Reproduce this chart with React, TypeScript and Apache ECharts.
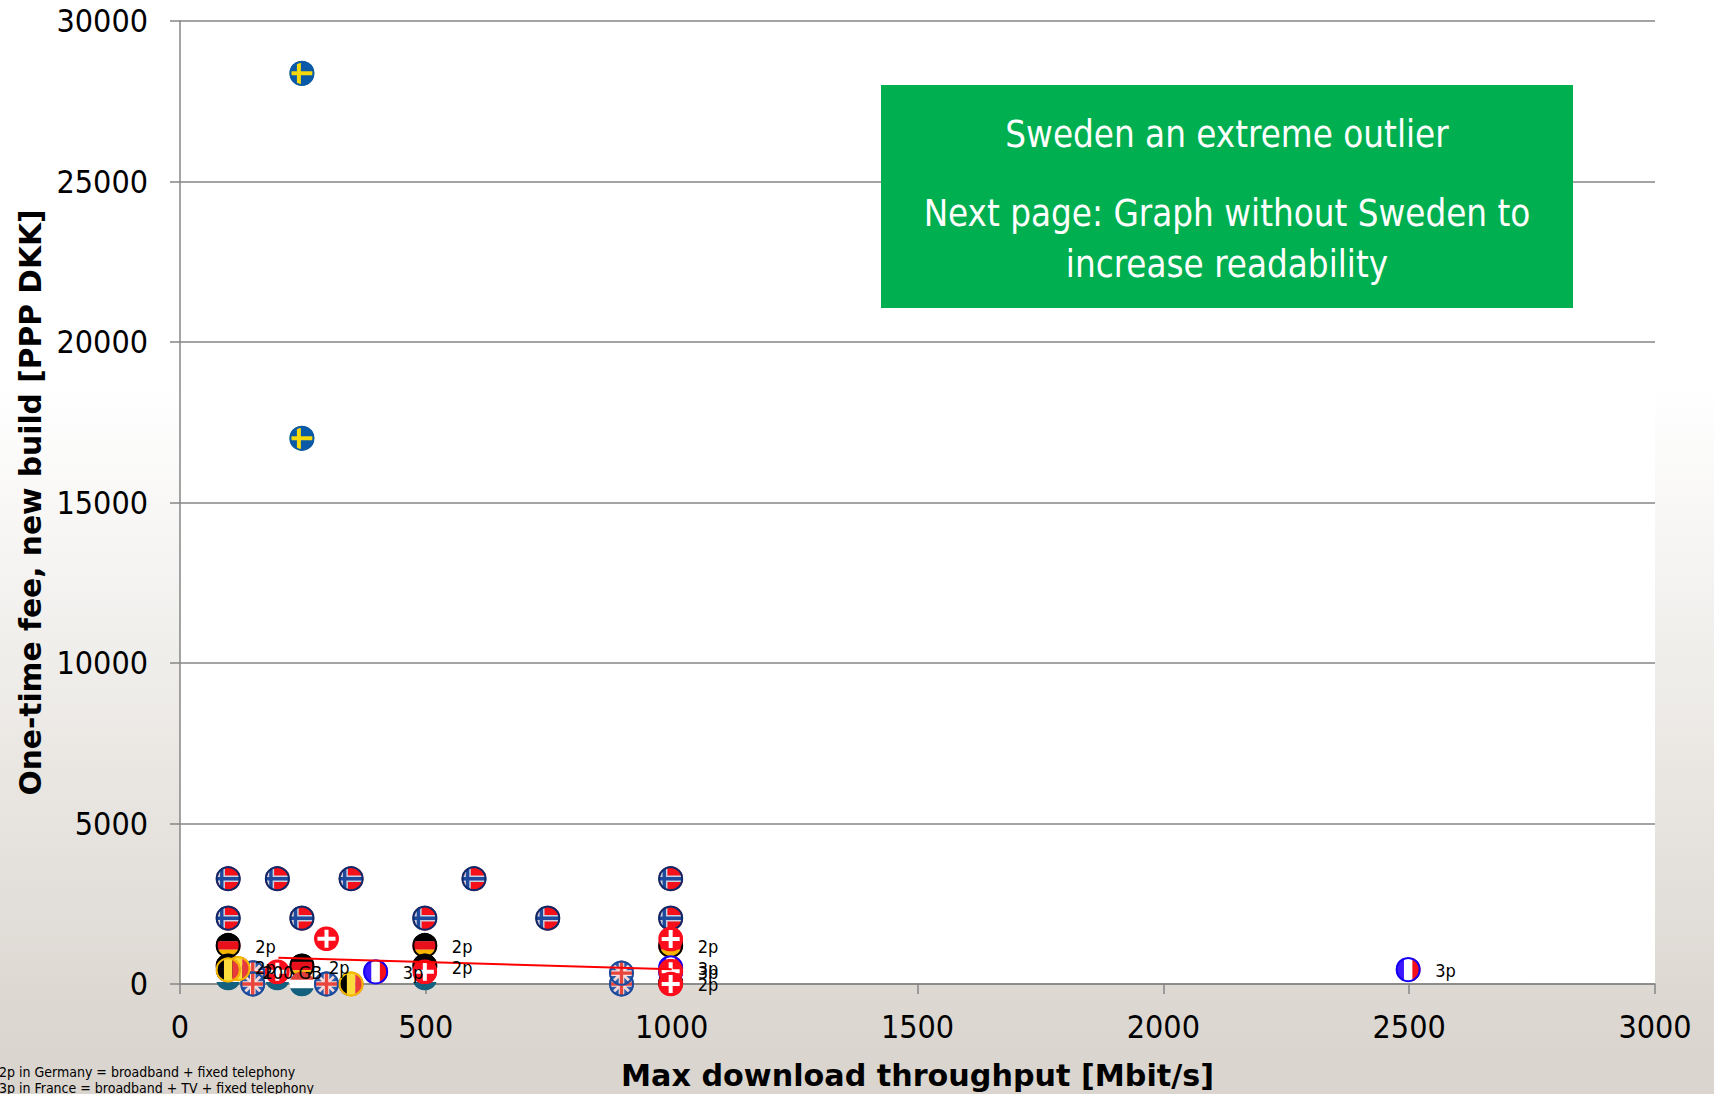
import React, { useEffect, useRef } from "react";
import * as echarts from "echarts";

const FONT = "'DejaVu Sans Condensed', 'DejaVu Sans', sans-serif";

const norway = [[100, 3280], [200, 3280], [350, 3280], [600, 3280], [1000, 3280], [100, 2050], [250, 2050], [500, 2050], [750, 2050], [1000, 2050]];
const sweden = [[250, 28370], [250, 17000]];
const germany = [[100, 1200], [500, 1200], [1000, 1200], [100, 560], [250, 560], [500, 560], [1000, 30]];
const netherlands = [[100, 190], [200, 190], [250, 0], [500, 190]];
const uk = [[150, 350], [150, 0], [300, 0], [900, 0], [900, 340]];
const belgium = [[120, 480], [100, 440], [350, 0]];
const france = [[400, 380], [1000, 500], [1000, 380], [2500, 450]];
const denmark = [[300, 1410], [200, 380], [500, 380], [1000, 1400], [1000, 400], [1000, 0]];
const trend = [[200, 820], [1000, 460]];

const labels2p = [[100, 1200], [500, 1200], [1000, 1200], [100, 560], [250, 560], [500, 560], [1000, 30]];
const labels3p = [[400, 380], [1000, 500], [1000, 380], [2500, 450]];
const labelsGb = [[200, 380, "200 GB"]];

const boxLines = ["Sweden an extreme outlier", "Next page: Graph without Sweden to", "increase readability"];
const footnotes = ["2p in Germany = broadband + fixed telephony", "3p in France = broadband + TV + fixed telephony"];

const R = 12.5;

function rect(x: number, y: number, w: number, h: number, fill: string) {
  return { type: "rect", shape: { x, y, width: w, height: h }, style: { fill } };
}
function poly(points: number[][], fill: string) {
  return { type: "polygon", shape: { points }, style: { fill } };
}

const flags: Record<string, { stroke: string | null; parts: any[] }> = {
  norway: {
    stroke: "#0b2a6b",
    parts: [
      rect(-R, -R, 2 * R, 2 * R, "#f5101a"),
      rect(-R, -3.2, 2 * R, 6.4, "#c9d0e2"),
      rect(-9.6, -R, 6.4, 2 * R, "#c9d0e2"),
      rect(-R, -1.7, 2 * R, 3.4, "#1f4a9c"),
      rect(-8.1, -R, 3.4, 2 * R, "#1f4a9c"),
    ],
  },
  sweden: {
    stroke: "#0a5aa8",
    parts: [
      rect(-R, -R, 2 * R, 2 * R, "#0a5aa8"),
      rect(-R, -2, 2 * R, 4, "#f5d90a"),
      rect(-5, -R, 4, 2 * R, "#f5d90a"),
    ],
  },
  germany: {
    stroke: "#000000",
    parts: [
      rect(-R, -R, 2 * R, 8.4, "#000000"),
      rect(-R, -4.2, 2 * R, 8.4, "#e8101a"),
      rect(-R, 4.2, 2 * R, 8.4, "#f5b400"),
    ],
  },
  netherlands: {
    stroke: null,
    parts: [
      rect(-R, -R, 2 * R, 8.4, "#e23f3a"),
      rect(-R, -4.2, 2 * R, 8.4, "#ffffff"),
      rect(-R, 4.2, 2 * R, 8.4, "#14607f"),
    ],
  },
  uk: {
    stroke: "#1b4a9c",
    parts: [
      rect(-R, -R, 2 * R, 2 * R, "#2a5aa8"),
      poly([[-R, -R + 2], [-R + 2, -R], [R, R - 2], [R - 2, R]], "#f3d8d8"),
      poly([[R, -R + 2], [R - 2, -R], [-R, R - 2], [-R + 2, R]], "#f3d8d8"),
      rect(-R, -2.8, 2 * R, 5.6, "#f7e4e2"),
      rect(-2.8, -R, 5.6, 2 * R, "#f7e4e2"),
      rect(-R, -1.7, 2 * R, 3.4, "#e8453c"),
      rect(-1.7, -R, 3.4, 2 * R, "#e8453c"),
    ],
  },
  belgium: {
    stroke: "#f5b800",
    parts: [
      rect(-R, -R, 8.4, 2 * R, "#000000"),
      rect(-4.2, -R, 8.4, 2 * R, "#fbdc3c"),
      rect(4.2, -R, 8.4, 2 * R, "#ea3b3b"),
    ],
  },
  france: {
    stroke: "#1400f5",
    parts: [
      rect(-R, -R, 8.4, 2 * R, "#3c18ff"),
      rect(-4.2, -R, 8.4, 2 * R, "#ffffff"),
      rect(4.2, -R, 8.4, 2 * R, "#f5101a"),
    ],
  },
  denmark: {
    stroke: null,
    parts: [
      rect(-R, -R, 2 * R, 2 * R, "#fb0d1b"),
      rect(-9, -2, 18, 4, "#ffffff"),
      rect(-2, -9, 4, 18, "#ffffff"),
    ],
  },
};

function flagSeries(name: string, data: number[][]) {
  const flag = flags[name];
  return {
    type: "custom",
    name,
    coordinateSystem: "cartesian2d",
    clip: false,
    silent: true,
    data,
    renderItem: (_: any, api: any) => {
      const [cx, cy] = api.coord([api.value(0), api.value(1)]);
      const children: any[] = [
        {
          type: "group",
          clipPath: { type: "circle", shape: { cx: 0, cy: 0, r: R } },
          children: flag.parts,
        },
      ];
      if (flag.stroke) {
        children.push({
          type: "circle",
          shape: { cx: 0, cy: 0, r: R - 1 },
          style: { fill: "none", stroke: flag.stroke, lineWidth: 2 },
        });
      }
      return { type: "group", x: cx - 1, y: cy, children };
    },
  };
}

function labelSeries(name: string, data: any[], text: (v: any) => string, dx: number, align: string) {
  return {
    type: "custom",
    name,
    coordinateSystem: "cartesian2d",
    clip: false,
    silent: true,
    z: 5,
    data,
    renderItem: (params: any, api: any) => {
      const [cx, cy] = api.coord([api.value(0), api.value(1)]);
      return {
        type: "text",
        x: cx + dx,
        y: cy + 1,
        style: {
          text: text(data[params.dataIndex]),
          fill: "#000000",
          fontFamily: FONT,
          fontSize: 18,
          align,
          verticalAlign: "middle",
        },
      };
    },
  };
}

export default function App() {
  const ref = useRef<HTMLDivElement>(null);
  useEffect(() => {
    const chart = echarts.init(ref.current!, null, { renderer: "svg" });
    const axisLine = { lineStyle: { color: "#868686", width: 1.5 } };
    const plain = (v: number) => String(v);
    chart.setOption({
      animation: false,
      backgroundColor: "transparent",
      grid: {
        left: 180,
        right: 59,
        top: 21,
        bottom: 110,
        show: true,
        backgroundColor: "#ffffff",
        borderWidth: 0,
        outerBoundsMode: "none",
      },
      xAxis: {
        type: "value",
        min: 0,
        max: 3000,
        interval: 500,
        name: "Max download throughput [Mbit/s]",
        nameLocation: "middle",
        nameGap: 76,
        nameTextStyle: { fontFamily: "'DejaVu Sans', sans-serif", fontWeight: "bold", fontSize: 30.2, color: "#000" },
        axisLine: { show: true, ...axisLine, onZero: false },
        axisTick: { show: true, length: 10, ...axisLine },
        splitLine: { show: false },
        axisLabel: { fontFamily: FONT, fontSize: 32, color: "#000", margin: 27, formatter: plain },
      },
      yAxis: {
        type: "value",
        min: 0,
        max: 30000,
        interval: 5000,
        name: "One-time fee, new build [PPP DKK]",
        nameLocation: "middle",
        nameGap: 133,
        nameTextStyle: { fontFamily: "'DejaVu Sans', sans-serif", fontWeight: "bold", fontSize: 29.7, color: "#000" },
        axisLine: { show: true, ...axisLine, onZero: false },
        axisTick: { show: true, length: 10, ...axisLine },
        splitLine: { show: true, lineStyle: { color: "#868686", width: 1.5 } },
        axisLabel: { fontFamily: FONT, fontSize: 32, color: "#000", margin: 32, formatter: plain },
      },
      series: [
        flagSeries("norway", norway),
        flagSeries("sweden", sweden),
        flagSeries("germany", germany),
        flagSeries("netherlands", netherlands),
        flagSeries("uk", uk),
        flagSeries("belgium", belgium),
        flagSeries("france", france),
        flagSeries("denmark", denmark),
        {
          type: "line",
          name: "trend",
          data: trend,
          symbol: "none",
          silent: true,
          z: 4,
          lineStyle: { color: "#ff0000", width: 2 },
        },
        labelSeries("2p", labels2p, () => "2p", 26, "left"),
        labelSeries("3p", labels3p, () => "3p", 26, "left"),
        labelSeries("gb", labelsGb, (v) => v[2], 14, "center"),
      ],
      graphic: [
        { type: "rect", z: 10, shape: { x: 881, y: 85, width: 692, height: 223 }, style: { fill: "#00b050" } },
        ...boxLines.map((t, i) => ({
          type: "text",
          z: 11,
          x: 1227,
          y: [134, 213, 264][i],
          style: { text: t, fill: "#ffffff", fontFamily: FONT, fontSize: 36.4, align: "center", verticalAlign: "middle" },
        })),
        ...footnotes.map((t, i) => ({
          type: "text",
          z: 11,
          x: -1,
          y: [1072, 1088][i],
          style: { text: t, fill: "#000000", fontFamily: FONT, fontSize: 14, align: "left", verticalAlign: "middle" },
        })),
      ],
    });
    return () => chart.dispose();
  }, []);
  return (
    <div
      style={{
        position: "absolute",
        left: 0,
        top: 0,
        width: 1714,
        height: 1094,
        overflow: "hidden",
        background: "linear-gradient(to bottom, #ffffff 0%, #ffffff 35.4%, #dad5ce 96%, #dad5ce 100%)",
      }}
    >
      <div ref={ref} style={{ width: 1714, height: 1094 }} />
    </div>
  );
}
